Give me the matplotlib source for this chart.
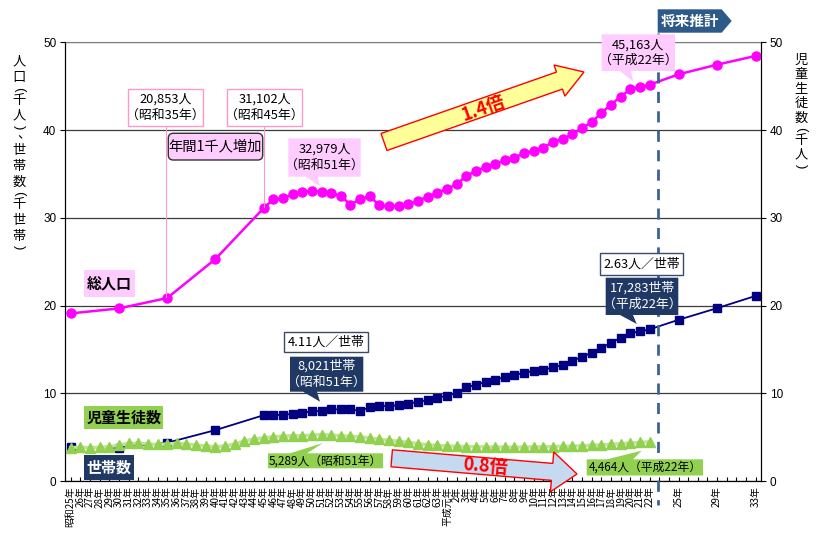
"""Population, households and pupils chart with future projection."""

import matplotlib
matplotlib.use("Agg")
import matplotlib.pyplot as plt
import numpy as np
from matplotlib.lines import Line2D
from matplotlib.patches import FancyBboxPatch, Polygon, Rectangle
from matplotlib.transforms import Affine2D

# ---- data (thousands) ----
pop_years = [1950, 1955, 1960, 1965, 1970] + list(range(1971, 2011)) + [2013, 2017, 2021]
population = [
    19.1, 19.67, 20.853, 25.3, 31.102,
    32.1, 32.2, 32.7, 32.95, 33.07, 32.979, 32.85, 32.5, 31.5, 32.1,
    32.45, 31.4, 31.3, 31.35, 31.55, 31.95, 32.4, 32.85, 33.3, 33.8,
    34.8, 35.3, 35.8, 36.1, 36.55, 36.85, 37.4, 37.6, 38.0, 38.65,
    39.0, 39.5, 40.2, 40.9, 41.95, 42.9, 43.8, 44.65, 44.9, 45.163,
    46.35, 47.45, 48.45,
]
households = [
    3.84, 3.8, 4.36, 5.8, 7.5,
    7.5, 7.55, 7.63, 7.78, 7.93, 8.021, 8.16, 8.16, 8.16, 8.0,
    8.39, 8.5, 8.58, 8.62, 8.81, 9.03, 9.22, 9.49, 9.72, 10.06,
    10.67, 10.97, 11.28, 11.54, 11.85, 12.07, 12.34, 12.53, 12.68, 12.95,
    13.21, 13.67, 14.16, 14.61, 15.15, 15.75, 16.32, 16.86, 17.05, 17.283,
    18.37, 19.7, 21.1,
]
pupil_years = list(range(1950, 2011))
pupils = [
    3.8, 3.83, 3.8, 3.83, 3.9, 4.1, 4.29, 4.29, 4.21, 4.17,
    4.21, 4.29, 4.21, 4.1, 3.99, 3.9, 3.99, 4.21, 4.56, 4.78,
    4.93, 5.04, 5.12, 5.16, 5.16, 5.23, 5.289, 5.23, 5.16, 5.1,
    5.03, 4.9, 4.75, 4.63, 4.52, 4.4, 4.25, 4.14, 4.06, 3.99,
    3.95, 3.92, 3.9, 3.88, 3.87, 3.86, 3.86, 3.87, 3.88, 3.9,
    3.92, 3.95, 3.98, 4.02, 4.07, 4.12, 4.18, 4.25, 4.33, 4.4, 4.464,
]

tick_years = list(range(1950, 2022))
labels_showa = [
    "昭和25年", "26年", "27年", "28年", "29年", "30年", "31年", "32年", "33年", "34年",
    "35年", "36年", "37年", "38年", "39年", "40年", "41年", "42年", "43年", "44年",
    "45年", "46年", "47年", "48年", "49年", "50年", "51年", "52年", "53年", "54年",
    "55年", "56年", "57年", "58年", "59年", "60年", "61年", "62年", "63年",
]
labels_heisei = [
    "平成元年", "2年", "3年", "4年", "5年", "6年", "7年", "8年", "9年", "10年", "11年",
    "12年", "13年", "14年", "15年", "16年", "17年", "18年", "19年", "20年", "21年", "22年",
]
labels_future = {2013: "25年", 2017: "29年", 2021: "33年"}

W, H = 817, 534
JP = ["Noto Sans CJK JP", "DejaVu Sans"]
NUM = ["Liberation Sans", "DejaVu Sans"]

MAGENTA = "#ff00ff"
NAVY = "#000080"
GREEN = "#92d050"
GREEN_LINE = "#c3e39a"
PINK = "#ffccff"
PINK_EDGE = "#ff99cc"
DARK_BOX = "#1f3864"

fig = plt.figure(figsize=(W / 100, H / 100), dpi=100)
ax = fig.add_axes([65.3 / W, 1 - 481 / H, (760.7 - 65.3) / W, (481 - 42.3) / H])
PX = Affine2D().scale(1 / W, -1 / H).translate(0, 1) + fig.transFigure

ax.plot(pop_years, households, color=NAVY, lw=1.3, marker="s", ms=6, zorder=3)
ax.plot(pupil_years, pupils, color=GREEN_LINE, lw=2.5, marker="^", ms=6.5,
        mfc=GREEN, mec=GREEN, zorder=4)
ax.plot(pop_years, population, color=MAGENTA, lw=1.8, marker="o", ms=6.5, zorder=5)

ax.set_xlim(1949.44, 2021.52)
ax.set_ylim(0, 50)
ax.set_yticks(range(0, 51, 10))
ax.grid(axis="y", color="#3c3c3c", lw=0.9)
ax.set_axisbelow(True)
for side in ("left", "right", "bottom"):
    ax.spines[side].set_color("black")
ax.spines["top"].set_color("#7f7f7f")

xlabels = labels_showa + labels_heisei
xtick_text = []
for i, yr in enumerate(tick_years):
    if yr <= 2010:
        xtick_text.append(xlabels[i])
    else:
        xtick_text.append(labels_future.get(yr, ""))
ax.set_xticks(tick_years)
ax.set_xticklabels(xtick_text, rotation=90, fontsize=7.1, family=JP)
ax.tick_params(axis="x", direction="in", length=3, pad=4)
ax.tick_params(axis="y", direction="out", length=3.5, pad=3, labelsize=8.5)
for t in ax.get_yticklabels():
    t.set_family(NUM)

ax2 = ax.twinx()
ax2.set_ylim(0, 50)
ax2.set_yticks(range(0, 51, 10))
ax2.tick_params(axis="y", direction="out", length=3.5, pad=3, labelsize=8.5)
for t in ax2.get_yticklabels():
    t.set_family(NUM)
ax2.spines["top"].set_visible(False)


def vertical_text(x, y, text, step=15.7, small=7.0, size=9.5):
    # upright characters stacked top to bottom; brackets turned sideways
    cells = {"(": small, ")": small, "、": 12.0}
    prev = None
    for ch in text:
        h = cells.get(ch, step)
        if prev is not None:
            y += (prev + h) / 2
        if ch in "()":
            fig.text(x, y, ch, transform=PX, ha="center", va="center", fontsize=size,
                     family=NUM, rotation=-90)
        elif ch == "、":
            fig.text(x + 5, y - 2, ch, transform=PX, ha="center", va="center",
                     fontsize=size, family=JP)
        else:
            fig.text(x, y, ch, transform=PX, ha="center", va="center", fontsize=size,
                     family=JP)
        prev = h


vertical_text(19, 62, "人口(千人)、世帯数(千世帯)")
vertical_text(801, 60, "児童生徒数(千人)", step=14.5, small=8.0)


def label_box(x0, y0, x1, y1, text, fc, ec="none", color="black", size=9.3,
              weight="normal", pointer=None, rounded=False, lw=1.0):
    if rounded:
        patch = FancyBboxPatch((x0, y0), x1 - x0, y1 - y0, transform=PX,
                               boxstyle="round,pad=0,rounding_size=5",
                               fc=fc, ec=ec, lw=lw)
    elif pointer is None:
        patch = Rectangle((x0, y0), x1 - x0, y1 - y0, transform=PX, fc=fc, ec=ec, lw=lw)
    else:
        side, xa, xb, tx, ty = pointer
        if side == "bottom":
            pts = [(x0, y0), (x1, y0), (x1, y1), (xb, y1), (tx, ty), (xa, y1), (x0, y1)]
        else:
            pts = [(x0, y0), (xa, y0), (tx, ty), (xb, y0), (x1, y0), (x1, y1), (x0, y1)]
        patch = Polygon(pts, closed=True, transform=PX, fc=fc, ec=ec, lw=lw)
    fig.patches.append(patch)
    fig.text((x0 + x1) / 2, (y0 + y1) / 2, text, transform=PX, ha="center", va="center",
             fontsize=size, family=JP, color=color, weight=weight, linespacing=1.3)


def block_arrow(tail, tip, body, head, head_len, fc, ec="red"):
    t = np.array(tail, float)
    p = np.array(tip, float)
    d = (p - t) / np.linalg.norm(p - t)
    n = np.array([-d[1], d[0]])
    neck = p - d * head_len
    pts = [t + n * body / 2, neck + n * body / 2, neck + n * head / 2, p,
           neck - n * head / 2, neck - n * body / 2, t - n * body / 2]
    fig.patches.append(Polygon(pts, closed=True, transform=PX, fc=fc, ec=ec, lw=1.0))


# projection divider
fig.lines.append(Line2D([658, 658], [33, 505], transform=PX, color="#3b6494", lw=2,
                        dashes=(4, 3), zorder=0.5))
fig.patches.append(Polygon([(657.7, 9.3), (721.7, 9.3), (731.7, 21), (721.7, 32.7), (657.7, 32.7)],
                           closed=True, transform=PX, fc="#2e5a88", ec="none"))
fig.text(690, 21, "将来推計", transform=PX, ha="center", va="center", fontsize=10.5,
         family=JP, color="white", weight="bold")

# population annotations
fig.lines.append(Line2D([166.5, 166.5], [125.7, 297], transform=PX, color=PINK_EDGE, lw=0.8, zorder=0.6))
fig.lines.append(Line2D([264.3, 264.3], [125.7, 207], transform=PX, color=PINK_EDGE, lw=0.8, zorder=0.6))
label_box(128.3, 89.3, 203.3, 125.7, "20,853人\n（昭和35年）", "white", ec=PINK_EDGE)
label_box(227.3, 89.3, 302.3, 125.7, "31,102人\n（昭和45年）", "white", ec=PINK_EDGE)
label_box(168.3, 133.3, 262.7, 160, "年間1千人増加", PINK, ec="#333333", size=10.3, rounded=True)
label_box(288.3, 138.3, 360.7, 176.7, "32,979人\n（昭和51年）", PINK,
          pointer=("bottom", 306, 318, 320, 186.5))
label_box(601.7, 34.3, 675, 71, "45,163人\n（平成22年）", PINK,
          pointer=("bottom", 620, 631, 633.3, 81.7))
label_box(84.3, 270, 135, 296.7, "総人口", PINK, size=10.8, weight="bold")

block_arrow((384, 142), (584, 72), 18, 33, 26, "#ffff99")
fig.text(483, 108.5, "1.4倍", transform=PX, ha="center", va="center", fontsize=13,
         family=JP, color="red", weight="bold", rotation=19.3)

# household annotations
label_box(600, 253.3, 682.7, 275, "2.63人／世帯", "white", ec="#3b4a6b")
label_box(605.7, 277.7, 678.3, 315, "17,283世帯\n（平成22年）", DARK_BOX, color="white",
          pointer=("bottom", 620, 633, 636.7, 324))
label_box(284.3, 331.7, 368.3, 352.3, "4.11人／世帯", "white", ec="#3b4a6b")
label_box(290, 356.7, 363.3, 391.7, "8,021世帯\n（昭和51年）", DARK_BOX, color="white",
          pointer=("bottom", 303, 317, 320, 401.7))
label_box(84.3, 406, 163.3, 429.3, "児童生徒数", GREEN, size=10.8, weight="bold")
label_box(84.3, 455, 134.3, 480, "世帯数", DARK_BOX, color="white", size=10.8, weight="bold")

# pupil annotations
label_box(268, 453.3, 383, 468.3, "5,289人（昭和51年）", GREEN, size=8.5,
          pointer=("top", 290, 307, 323, 443))
label_box(586.7, 459.3, 703, 475.5, "4,464人（平成22年）", GREEN, size=8.5,
          pointer=("top", 607, 633, 641.7, 450.7))

block_arrow((391.7, 458.3), (577, 474), 17, 40, 25, "#c5d9f1")
fig.text(485, 466, "0.8倍", transform=PX, ha="center", va="center", fontsize=13,
         family=JP, color="red", weight="bold", rotation=-4.6)

fig.savefig("out.png", dpi=100)
